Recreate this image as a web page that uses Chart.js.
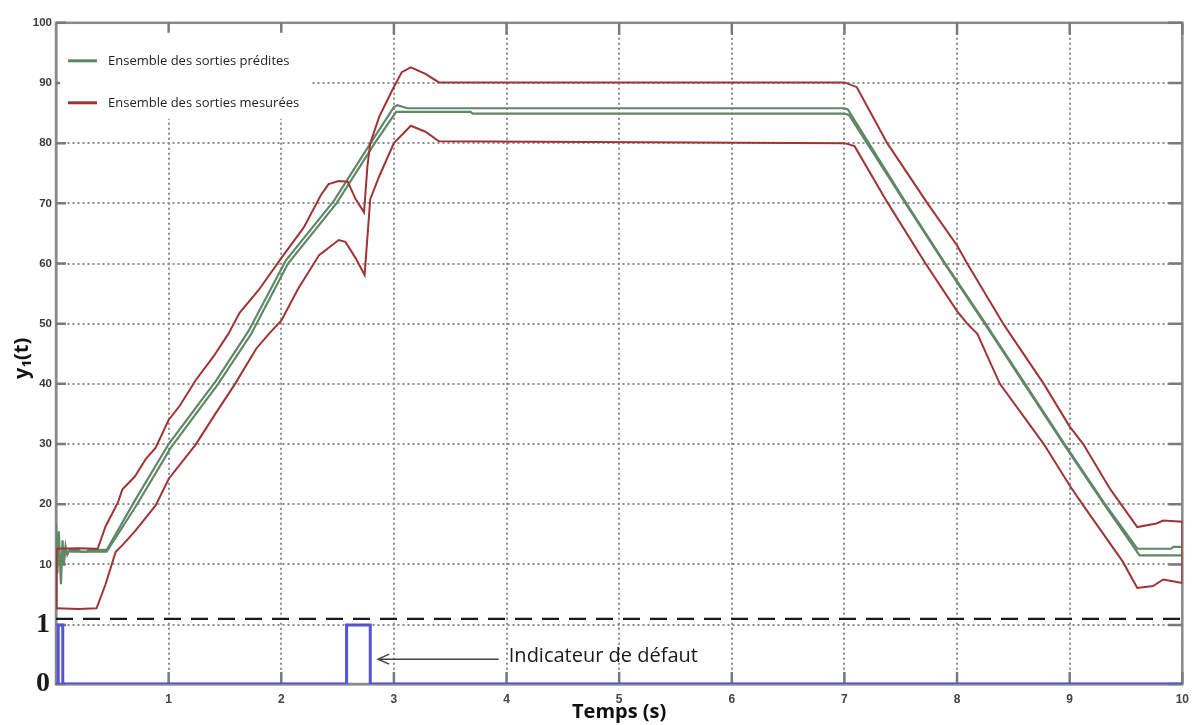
<!DOCTYPE html>
<html>
<head>
<meta charset="utf-8">
<script src="https://cdn.jsdelivr.net/npm/chart.js@4.4.1/dist/chart.umd.min.js"></script>
<style>
  html, body { margin: 0; padding: 0; background: #fff; }
</style>
</head>
<body>
<canvas id="chart" width="1197" height="725"></canvas>
<script>
// ticks
const xTicks = [1, 2, 3, 4, 5, 6, 7, 8, 9, 10];
const yTicks = [10, 20, 30, 40, 50, 60, 70, 80, 90, 100];
const faultTicks = [0, 1];

// predicted outputs (green), pairs of [t, y1]
const predictedUpper = [
    [0, 16.8], [0.012, 8.5], [0.025, 15.5], [0.044, 6.7], [0.058, 14], [0.07, 10], [0.085, 13],
    [0.1, 11.6], [0.12, 12.4], [0.2, 12.4], [0.22, 12.1], [0.27, 12.1], [0.29, 12.4], [0.45, 12.4],
    [0.7, 20.6], [1.0, 30], [1.42, 40.5], [1.71, 48.8], [2.04, 60.5], [2.47, 70.5], [2.81, 80.5],
    [3.0, 86], [3.03, 86.3], [3.12, 85.8], [7.0, 85.8], [7.03, 85.6], [7.53, 70.6], [7.88, 60.4],
    [8.24, 50.4], [8.94, 30.4], [9.3, 20.4], [9.6, 12.6], [9.9, 12.6], [9.92, 12.9], [10, 12.9]
];
const predictedLower = [
    [0.12, 12.1], [0.45, 12.1], [0.72, 20], [1.02, 29.4], [1.44, 40], [1.73, 48.2], [2.06, 60],
    [2.49, 70], [2.83, 80], [3.02, 85.2], [3.68, 85.2], [3.7, 84.9], [7.0, 84.9], [7.04, 84.7],
    [7.55, 69.8], [7.9, 59.7], [8.26, 49.6], [8.96, 29.6], [9.32, 19.6], [9.62, 11.5], [10, 11.5]
];

// measured outputs (red)
const measuredUpper = [
    [0, 2.7], [0.005, 12.6], [0.2, 12.7], [0.37, 12.6], [0.44, 16.3], [0.55, 20.3], [0.59, 22.5],
    [0.7, 24.6], [0.8, 27.6], [0.885, 29.4], [1.0, 34], [1.1, 36.4], [1.24, 40.6], [1.4, 44.6],
    [1.53, 48.3], [1.63, 51.8], [1.8, 55.6], [2.0, 60.9], [2.2, 66], [2.35, 71.3], [2.42, 73.2],
    [2.51, 73.7], [2.59, 73.6], [2.66, 70.7], [2.735, 68.5], [2.765, 76.2], [2.79, 80], [2.87, 84.4],
    [2.985, 88.8], [3.07, 91.8], [3.15, 92.6], [3.28, 91.5], [3.4, 90.1], [7.0, 90.1], [7.11, 89.3],
    [7.38, 80], [7.73, 70.2], [8.0, 63], [8.09, 60], [8.41, 50], [8.47, 48.3], [8.77, 40], [9.0, 32.9],
    [9.12, 30], [9.36, 22.5], [9.6, 16.2], [9.77, 16.8], [9.83, 17.3], [10, 17.1], [10, 6.9]
];
const measuredLower = [
    [0, 2.7], [0.2, 2.6], [0.36, 2.7], [0.44, 6.7], [0.53, 12.1], [0.59, 13.2], [0.7, 15.5],
    [0.885, 19.8], [1.0, 24.2], [1.24, 29.9], [1.4, 34.6], [1.59, 40], [1.776, 45.8], [1.89, 48.3],
    [2.0, 50.5], [2.15, 55.8], [2.336, 61.4], [2.51, 63.9], [2.57, 63.6], [2.66, 60.9], [2.74, 58.1],
    [2.79, 70.7], [2.87, 74.5], [3.0, 80], [3.15, 82.9], [3.28, 81.9], [3.4, 80.3], [7.0, 80],
    [7.09, 79.5], [7.38, 70.2], [7.72, 60], [8.0, 52.1], [8.09, 50], [8.18, 48.3], [8.38, 40],
    [8.77, 30], [9.0, 23.1], [9.12, 19.8], [9.47, 10.5], [9.6, 6.1], [9.74, 6.4], [9.83, 7.5], [10, 6.9]
];

// fault indicator (lower panel)
const faultIndicator = [
    [0, 0], [0.02, 0], [0.02, 1], [0.06, 1], [0.06, 0], [2.58, 0], [2.58, 1], [2.79, 1], [2.79, 0], [10, 0]
];
const separatorLine = [[0, 1.11], [10, 1.11]];

const legendLabels = ['Ensemble des sorties prédites', 'Ensemble des sorties mesurées'];
const xTitle = 'Temps (s)';
const yTitle = 'y₁(t)';
const faultNote = 'Indicateur de défaut';

const RED = '#a03434';
const GREEN = '#5f8768';
const BLUE = '#5454d6';
const AXIS = '#8a8a8a';

const toPoints = list => list.map(p => ({ x: p[0], y: p[1] }));

const line = (data, color, width, axis) => ({
    data: toPoints(data),
    borderColor: color,
    borderWidth: width,
    pointRadius: 0,
    tension: 0,
    fill: false,
    yAxisID: axis
});

const gridOpts = { color: '#8c8c8c', lineWidth: 2, drawTicks: false };
const borderOpts = { color: AXIS, width: 2.5, dash: [2, 3] };

const decor = {
    id: 'decor',
    beforeDatasetsDraw(chart) {
        const { ctx, chartArea: a, scales } = chart;
        ctx.save();
        // frame
        ctx.strokeStyle = AXIS;
        ctx.lineWidth = 2.5;
        ctx.strokeRect(a.left, a.top, a.right - a.left, a.bottom - a.top);
        // inward tick marks
        ctx.strokeStyle = '#7a7a7a';
        ctx.lineWidth = 2.5;
        ctx.beginPath();
        xTicks.forEach(v => {
            const px = scales.x.getPixelForValue(v);
            ctx.moveTo(px, a.top); ctx.lineTo(px, a.top + 12);
            ctx.moveTo(px, a.bottom); ctx.lineTo(px, a.bottom - 12);
        });
        yTicks.forEach(v => {
            const py = scales.y.getPixelForValue(v);
            ctx.moveTo(a.left, py); ctx.lineTo(a.left + 10, py);
            ctx.moveTo(a.right - 14, py); ctx.lineTo(a.right, py);
        });
        faultTicks.forEach(v => {
            const py = scales.y2.getPixelForValue(v);
            ctx.moveTo(a.left, py); ctx.lineTo(a.left + 10, py);
            ctx.moveTo(a.right - 14, py); ctx.lineTo(a.right, py);
        });
        ctx.stroke();
        // legend box
        ctx.fillStyle = '#ffffff';
        ctx.fillRect(a.left + 4, a.top + 10, 252, 86);
        ctx.restore();
    },
    afterDatasetsDraw(chart) {
        const { ctx, chartArea: a } = chart;
        ctx.save();
        ctx.font = '13px "Open Sans", "Noto Sans", sans-serif';
        ctx.fillStyle = '#222';
        ctx.textBaseline = 'middle';
        [GREEN, RED].forEach((color, i) => {
            const ly = a.top + 38 + i * 42;
            ctx.strokeStyle = color;
            ctx.lineWidth = 3;
            ctx.beginPath();
            ctx.moveTo(a.left + 12, ly);
            ctx.lineTo(a.left + 41, ly);
            ctx.stroke();
            ctx.fillText(legendLabels[i], a.left + 52, ly);
        });
        ctx.restore();
    },
    afterDraw(chart) {
        const { ctx, chartArea: a, scales } = chart;
        ctx.save();
        // annotation for the fault pulse
        const ay = scales.y2.getPixelForValue(0.42);
        const ax0 = scales.x.getPixelForValue(3.93);
        const ax1 = scales.x.getPixelForValue(2.86);
        ctx.strokeStyle = '#444';
        ctx.lineWidth = 1.5;
        ctx.beginPath();
        ctx.moveTo(ax0, ay);
        ctx.lineTo(ax1, ay);
        ctx.moveTo(ax1 + 11, ay - 5);
        ctx.lineTo(ax1, ay);
        ctx.lineTo(ax1 + 11, ay + 5);
        ctx.stroke();
        ctx.font = '20px "Open Sans", "Noto Sans", sans-serif';
        ctx.fillStyle = '#1a1a1a';
        ctx.textBaseline = 'middle';
        ctx.fillText(faultNote, scales.x.getPixelForValue(4.02), ay - 3);
        // y axis title
        ctx.translate(22, (a.top + a.bottom) / 2 + 5);
        ctx.rotate(-Math.PI / 2);
        ctx.textAlign = 'center';
        ctx.font = 'bold 20px "Open Sans", "DejaVu Sans", sans-serif';
        ctx.fillStyle = '#111';
        ctx.fillText(yTitle, 0, 0);
        ctx.restore();
    }
};

new Chart(document.getElementById('chart').getContext('2d'), {
    type: 'line',
    data: {
        datasets: [
            line(measuredUpper, RED, 2, 'y'),
            line(measuredLower, RED, 2, 'y'),
            line(predictedUpper, GREEN, 2.2, 'y'),
            line(predictedLower, GREEN, 2.2, 'y'),
            line(faultIndicator, BLUE, 3, 'y2'),
            Object.assign(line(separatorLine, '#1a1a1a', 3.5, 'y2'), { borderDash: [17, 10] })
        ]
    },
    options: {
        responsive: false,
        animation: false,
        layout: { padding: { top: 15, right: 10, left: 0, bottom: 0 } },
        plugins: { legend: { display: false }, tooltip: { enabled: false } },
        scales: {
            x: {
                type: 'linear',
                min: 0,
                max: 10,
                afterBuildTicks: s => { s.ticks = xTicks.map(v => ({ value: v })); },
                afterFit: s => { s.height = 41; },
                grid: gridOpts,
                border: borderOpts,
                ticks: {
                    autoSkip: false,
                    maxRotation: 0,
                    padding: 8,
                    color: '#444',
                    font: { family: '"Liberation Sans", Arial, sans-serif', size: 12, weight: 'bold' }
                },
                title: {
                    display: true,
                    text: xTitle,
                    color: '#111',
                    padding: { top: 0, bottom: 1 },
                    font: { family: '"Open Sans", "Noto Sans", sans-serif', size: 20, weight: 'bold' }
                }
            },
            y: {
                type: 'linear',
                position: 'left',
                stack: 'left',
                stackWeight: 602,
                weight: 2,
                min: 1.13,
                max: 100,
                afterBuildTicks: s => { s.ticks = yTicks.map(v => ({ value: v })); },
                afterFit: s => { s.width = 56; },
                grid: gridOpts,
                border: borderOpts,
                ticks: {
                    autoSkip: false,
                    padding: 4,
                    color: '#3a3a3a',
                    font: { family: '"Liberation Sans", Arial, sans-serif', size: 11.5, weight: 'bold' }
                }
            },
            y2: {
                type: 'linear',
                position: 'left',
                stack: 'left',
                stackWeight: 67,
                weight: 0,
                min: 0,
                max: 1.12,
                afterBuildTicks: s => { s.ticks = faultTicks.map(v => ({ value: v })); },
                afterFit: s => { s.width = 56; },
                grid: gridOpts,
                border: borderOpts,
                ticks: {
                    autoSkip: false,
                    padding: 6,
                    color: '#1a1a1a',
                    font: { family: '"Liberation Serif", "Times New Roman", serif', size: 28, weight: 'bold' }
                }
            }
        }
    },
    plugins: [decor]
});
</script>
</body>
</html>
